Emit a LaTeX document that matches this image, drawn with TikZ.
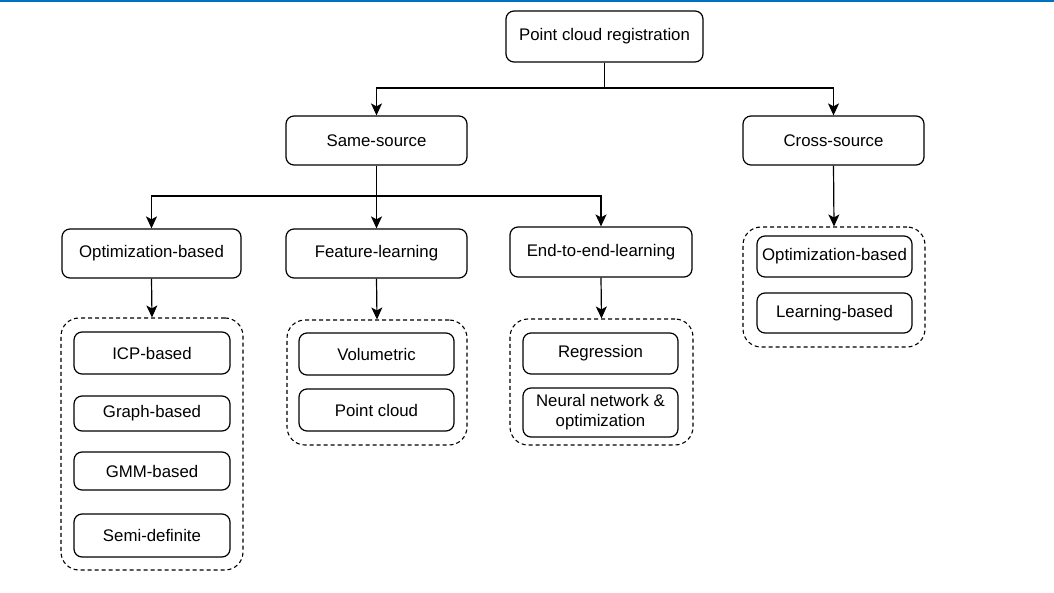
\documentclass[tikz,border=0pt]{standalone}
\usepackage{fontspec}
\setmainfont{Liberation Sans}
\usetikzlibrary{arrows.meta}
\definecolor{topblue}{RGB}{0,112,192}
\tikzset{
  box/.style={draw=black, line width=1.2pt, rounded corners=8pt, fill=white, inner sep=0pt, align=center, font=\fontsize{16.8}{20}\selectfont},
  grp/.style={draw=black, line width=1.1pt, dash pattern=on 4pt off 3pt, rounded corners=18pt, inner sep=0pt},
  arr/.style={line width=1.2pt, -{Stealth[length=12pt,width=11pt,inset=3pt]}},
  ln/.style={line width=1.2pt}
}
\begin{document}
\begin{tikzpicture}[x=1pt,y=-1pt]
\useasboundingbox (0,0) rectangle (1054,593);
\fill[topblue] (0,0) rectangle (1054,2.5);
% groups
\node[grp, minimum width=182pt, minimum height=252pt] (og) at (152,444) {};
\node[grp, minimum width=180pt, minimum height=125pt] (fg) at (377,382.5) {};
\node[grp, minimum width=183pt, minimum height=126pt] (eg) at (601.5,382) {};
\node[grp, minimum width=182pt, minimum height=120pt] (cg) at (834,287) {};
% main boxes
\node[box, minimum width=197pt, minimum height=51pt] (pcr) at (604.5,36.5) {Point cloud registration};
\node[box, minimum width=181pt, minimum height=49pt] (ss) at (376.5,140.5) {Same-source};
\node[box, minimum width=181pt, minimum height=49pt] (cs) at (833.5,140.5) {Cross-source};
\node[box, minimum width=179pt, minimum height=49pt] (ob) at (151.5,253.5) {Optimization-based};
\node[box, minimum width=181pt, minimum height=49pt] (fl) at (376.5,253.5) {Feature-learning};
\node[box, minimum width=182pt, minimum height=50pt] (el) at (601,252) {End-to-end-learning};
% inner boxes
\node[box, minimum width=156pt, minimum height=42pt] (icp) at (152,353) {ICP-based};
\node[box, minimum width=156pt, minimum height=35pt] (gb) at (152,413.5) {Graph-based};
\node[box, minimum width=156pt, minimum height=38pt] (gmm) at (152,471) {GMM-based};
\node[box, minimum width=156pt, minimum height=43pt] (sd) at (152,535.5) {Semi-definite};
\node[box, minimum width=155pt, minimum height=42pt] (vol) at (376.5,354) {Volumetric};
\node[box, minimum width=155pt, minimum height=42pt] (pc) at (376.5,410) {Point cloud};
\node[box, minimum width=155pt, minimum height=41pt] (reg) at (600.5,353.5) {Regression};
\node[box, minimum width=155pt, minimum height=49pt] (nn) at (600.5,412.5) {Neural network \&\\optimization};
\node[box, minimum width=155pt, minimum height=41pt] (cob) at (834.5,256.5) {Optimization-based};
\node[box, minimum width=155pt, minimum height=40pt] (clb) at (834.5,313) {Learning-based};
% connectors
\coordinate (j1) at (604.5,88);
\coordinate (j2) at (376.5,196);
\draw[ln] (pcr.south) -- (j1);
\draw[arr] (j1) -| (ss.north);
\draw[arr] (j1) -| (cs.north);
\draw[ln] (ss.south) -- (j2);
\draw[arr] (j2) -| (ob.north);
\draw[arr] (j2) -- (fl.north);
\draw[arr] (j2) -| (el.north);
\draw[arr] (ob.south) -- (og.north);
\draw[arr] (fl.south) -- (fg.north);
\draw[arr] (el.south) -- (eg.north);
\draw[arr] (cs.south) -- (cg.north);
\end{tikzpicture}
\end{document}
